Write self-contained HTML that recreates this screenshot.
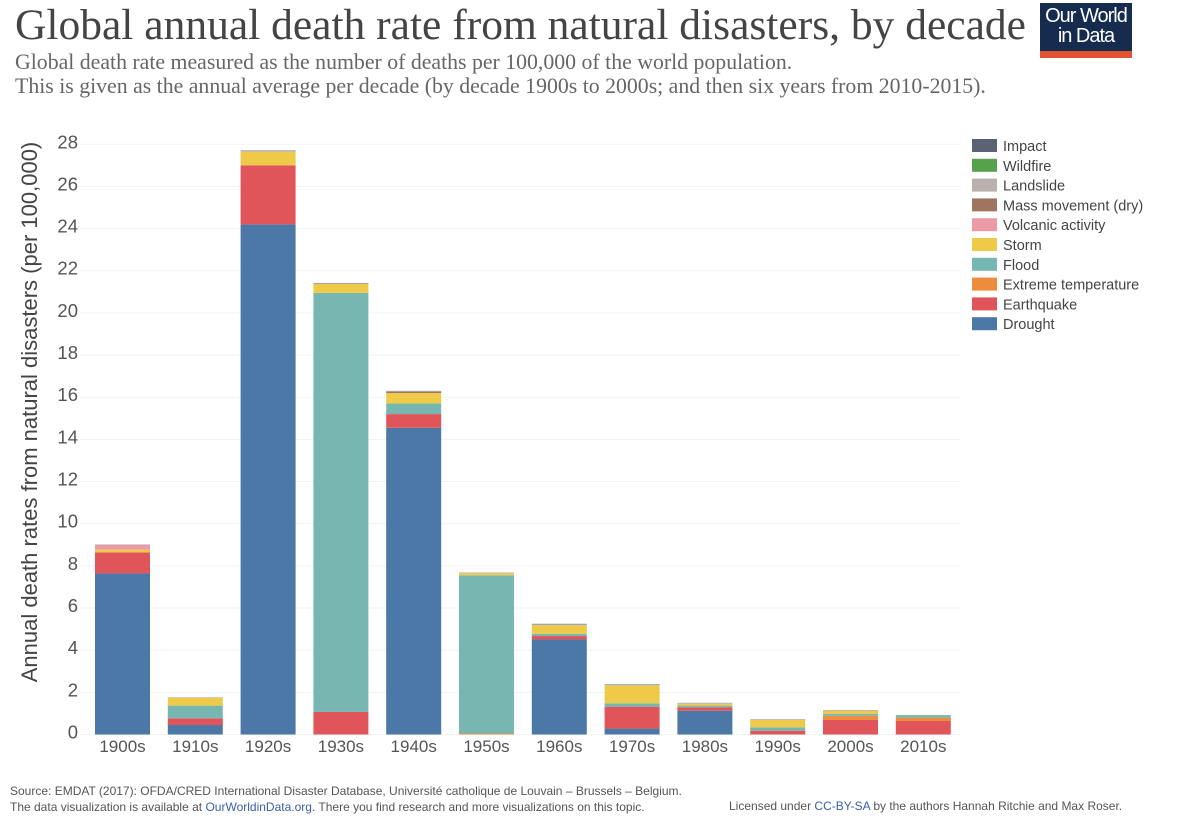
<!DOCTYPE html>
<html><head><meta charset="utf-8"><style>
body{margin:0;background:#fff;width:1200px;height:826px;overflow:hidden;font-family:"Liberation Sans",sans-serif}
.t{position:absolute;white-space:nowrap}
</style></head><body>
<div class="t" style="left:15px;top:0px;font-family:'Liberation Serif',serif;font-size:43.5px;color:#444">Global annual death rate from natural disasters, by decade</div>
<div class="t" style="left:15px;top:50px;font-family:'Liberation Serif',serif;font-size:21.8px;color:#666;line-height:24px">Global death rate measured as the number of deaths per 100,000 of the world population.<br>This is given as the annual average per decade (by decade 1900s to 2000s; and then six years from 2010-2015).</div>
<div style="position:absolute;left:1040px;top:3px;width:92px;height:55px;background:#152c4f">
<div style="position:absolute;left:0;right:0;top:3px;text-align:center;color:#fff;font-size:20px;line-height:20px;letter-spacing:-1px">Our World<br>in Data</div>
<div style="position:absolute;left:0;right:0;bottom:0;height:7px;background:#e2532f"></div></div>
<svg id="chart" style="position:absolute;left:0;top:0" width="1200" height="826"></svg>
<div class="t" style="left:10px;top:783px;font-size:12px;color:#555;line-height:16px">Source: EMDAT (2017): OFDA/CRED International Disaster Database, Université catholique de Louvain – Brussels – Belgium.<br>The data visualization is available at <span style="color:#3b5fab">OurWorldinData.org</span>. There you find research and more visualizations on this topic.</div>
<div class="t" style="left:729px;top:799px;font-size:12px;color:#555">Licensed under <span style="color:#3b5fab">CC-BY-SA</span> by the authors Hannah Ritchie and Max Roser.</div>
<script>
const categories=["1900s","1910s","1920s","1930s","1940s","1950s","1960s","1970s","1980s","1990s","2000s","2010s"];
const seriesNames=["Drought","Earthquake","Extreme temperature","Flood","Storm","Volcanic activity","Mass movement (dry)","Landslide","Wildfire","Impact"];
const seriesColors=["#4c78a8","#e0555a","#ec8c3c","#76b7b2","#eeca48","#ec9ba6","#9e7660","#bab0ac","#54a24b","#5a6273"];
const drought=[7.64,0.45,24.2,0,14.55,0,4.51,0.28,1.13,0,0,0];
const earthquake=[1.0,0.32,2.8,1.07,0.65,0,0.16,1.04,0.16,0.18,0.69,0.64];
const extremeTemp=[0,0,0,0,0,0.05,0,0,0,0,0.2,0.16];
const flood=[0,0.6,0,19.88,0.5,7.5,0.11,0.16,0.08,0.16,0.09,0.12];
const storm=[0.13,0.37,0.65,0.43,0.5,0.1,0.4,0.85,0.09,0.35,0.15,0];
const volcanic=[0.22,0,0,0,0,0,0,0,0,0,0,0];
const massMovement=[0,0,0,0,0.05,0,0,0,0,0,0,0];
const landslide=[0.01,0.01,0.03,0.02,0.03,0.02,0.05,0.03,0.03,0.02,0.02,0.01];
const wildfire=[0,0,0,0,0,0,0,0,0,0,0,0];
const impact=[0.01,0.01,0.02,0.02,0.02,0.01,0.02,0.02,0.01,0.01,0.01,0];
const yTicks=[0,2,4,6,8,10,12,14,16,18,20,22,24,26,28];
const series=[drought,earthquake,extremeTemp,flood,storm,volcanic,massMovement,landslide,wildfire,impact];
const svg=document.getElementById('chart');const NS='http://www.w3.org/2000/svg';
function y(v){return 734.5-v*21.08;}
function x(i){return 122.5+i*72.8;}
function mk(t,a){const e=document.createElementNS(NS,t);for(const k in a)e.setAttribute(k,a[k]);svg.appendChild(e);return e;}
yTicks.forEach(v=>{
 const g=mk('line',{x1:80,x2:960,y1:y(v),y2:y(v),stroke:'#f3f3f3','stroke-width':1});
 
 
 const t=mk('text',{x:78,y:y(v)+4,'text-anchor':'end','font-size':18.5,fill:'#555','font-family':'Liberation Sans, sans-serif'});
 t.textContent=v;
 
 
});
categories.forEach((c,i)=>{
 let acc=0;
 series.forEach((s,k)=>{const v=s[i];if(v<=0)return;
  const r=mk('rect',{x:x(i)-27.5,width:55,y:y(acc+v),height:v*21.08,fill:seriesColors[k]});
  
  
  acc+=v;});
 const t=mk('text',{x:x(i),y:752,'text-anchor':'middle','font-size':17,fill:'#555','font-family':'Liberation Sans, sans-serif'});
 t.textContent=c;
 
 
});
const yt=mk('text',{x:0,y:0,transform:'translate(37,412) rotate(-90)','text-anchor':'middle','font-size':22,fill:'#444','font-family':'Liberation Sans, sans-serif'});
yt.textContent='Annual death rates from natural disasters (per 100,000)';


for(let k=series.length-1,row=0;k>=0;k--,row++){
 const yy=139+row*19.8;
 const r=mk('rect',{x:972,y:yy,width:25,height:13,fill:seriesColors[k]});
 
 
 const t=mk('text',{x:1003,y:yy+12,'font-size':14.5,fill:'#444','font-family':'Liberation Sans, sans-serif'});
 t.textContent=seriesNames[k];
 
 
}
</script>
</body></html>
